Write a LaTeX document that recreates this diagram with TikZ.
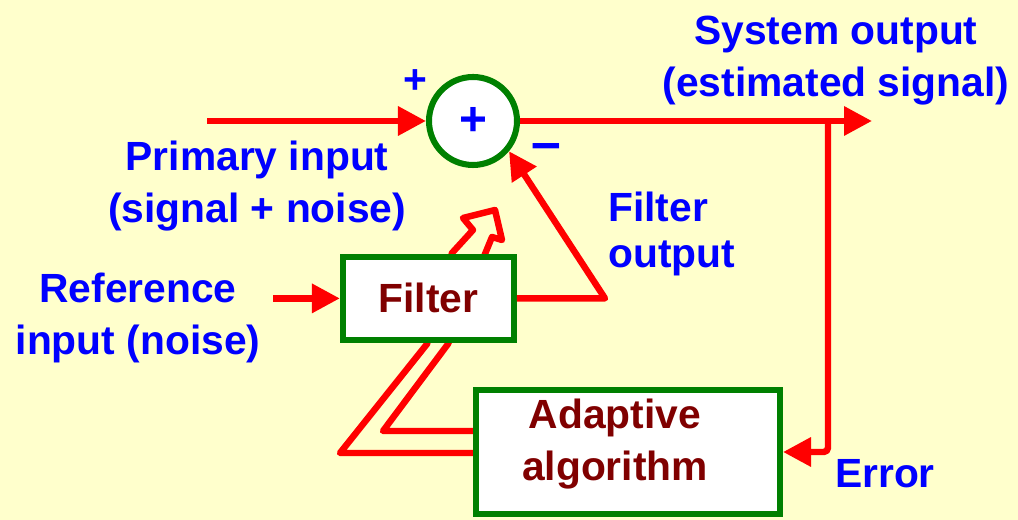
\documentclass[tikz,border=0pt]{standalone}
\usepackage{fontspec}
\setmainfont{Liberation Sans}
\usetikzlibrary{arrows.meta}

\definecolor{sfondo}{HTML}{FFFFCC}
\definecolor{rosso}{HTML}{FF0000}
\definecolor{verde}{HTML}{008000}
\definecolor{blu}{HTML}{0000FF}
\definecolor{bordeaux}{HTML}{800000}

\begin{document}
\begin{tikzpicture}[
    testo/.style={font=\fontsize{29}{37}\selectfont\bfseries, text=blu, align=center, inner sep=0pt},
    blocco/.style={draw=verde, line width=4.3pt, fill=white, inner sep=0pt},
    segnale/.style={draw=rosso, line width=4.6pt, line join=round},
    freccia/.style={segnale, -{Triangle[length=0.7cm, width=0.7cm]}}
  ]

        % =========================================
        % === Sfondo ===
        % =========================================
        \fill[sfondo] (0,0) rectangle (25.45,13);

        % Sommatore
        \node[blocco, circle, minimum size=2.2cm, text=blu, font=\fontsize{34}{34}\selectfont\bfseries] (somma) at (11.825, 9.975) {+};

        % Blocco algoritmo adattativo
        \node[blocco, minimum width=7.6cm, minimum height=3.1cm] (adatt) at (15.7, 1.7) {};
        \node[testo, text=bordeaux] (adatt-testo) at (15.375, 1.89) {Adaptive\\algorithm};

        % Freccia cava che attraversa il filtro (regolazione dei coefficienti)
        \draw[segnale] ([yshift=-0.025cm]adatt.west) -- (8.5, 1.675) -- (10.675, 4.4) -- (11.3, 6.675)
            -- (11.825, 7.25) -- (11.575, 7.55) -- (12.375, 7.75) -- (12.55, 7.0) -- (12.3, 7.075)
            -- (12.125, 6.65) -- (11.2, 4.4) -- (9.575, 2.225) -- ([yshift=0.525cm]adatt.west);

        % Filtro (copre il tratto centrale della freccia cava)
        \node[blocco, minimum width=4.275cm, minimum height=2.075cm, text=bordeaux, font=\fontsize{29}{37}\selectfont\bfseries] (filtro) at (10.71, 5.54) {Filter};

        % =========================================
        % === Collegamenti ===
        % =========================================
        \coordinate (ingresso) at (5.175, 9.975);
        \coordinate (uscita) at (21.8, 9.975);
        \coordinate (ramo) at (20.7, 9.975);
        \coordinate (rif) at (6.825, 5.54);
        \coordinate (gomito) at (15.125, 5.54);

        \draw[freccia] (ingresso) -- (somma.west);
        \draw[freccia] (somma.east) -- (uscita);
        \draw[freccia, rounded corners=3pt] (ramo) |- (adatt.east);
        \draw[freccia] (rif) -- (filtro.west);
        \draw[freccia] (filtro.east) -- (gomito) -- (somma.-40);

        % =========================================
        % === Etichette ===
        % =========================================
        \node[testo] (uscita-sistema) at (20.9, 11.49) {System output\\(estimated signal)};
        \node[testo] (primario) at (6.43, 8.34) {Primary input\\(signal + noise)};
        \node[testo] (riferimento) at (3.45, 5.055) {Reference\\input (noise)};
        \node[testo, align=left, anchor=west, font=\fontsize{29}{33}\selectfont\bfseries] (uscita-filtro) at (15.2, 7.15) {Filter\\output};
        \node[testo, anchor=base] (errore) at (22.125, 0.8) {Error};

        % Segni del sommatore
        \node[testo] (piu) at (10.375, 10.95) {+};
        \node[testo, font=\fontsize{38}{38}\selectfont\bfseries] (meno) at (13.65, 9.2) {\textendash};

\end{tikzpicture}
\end{document}
